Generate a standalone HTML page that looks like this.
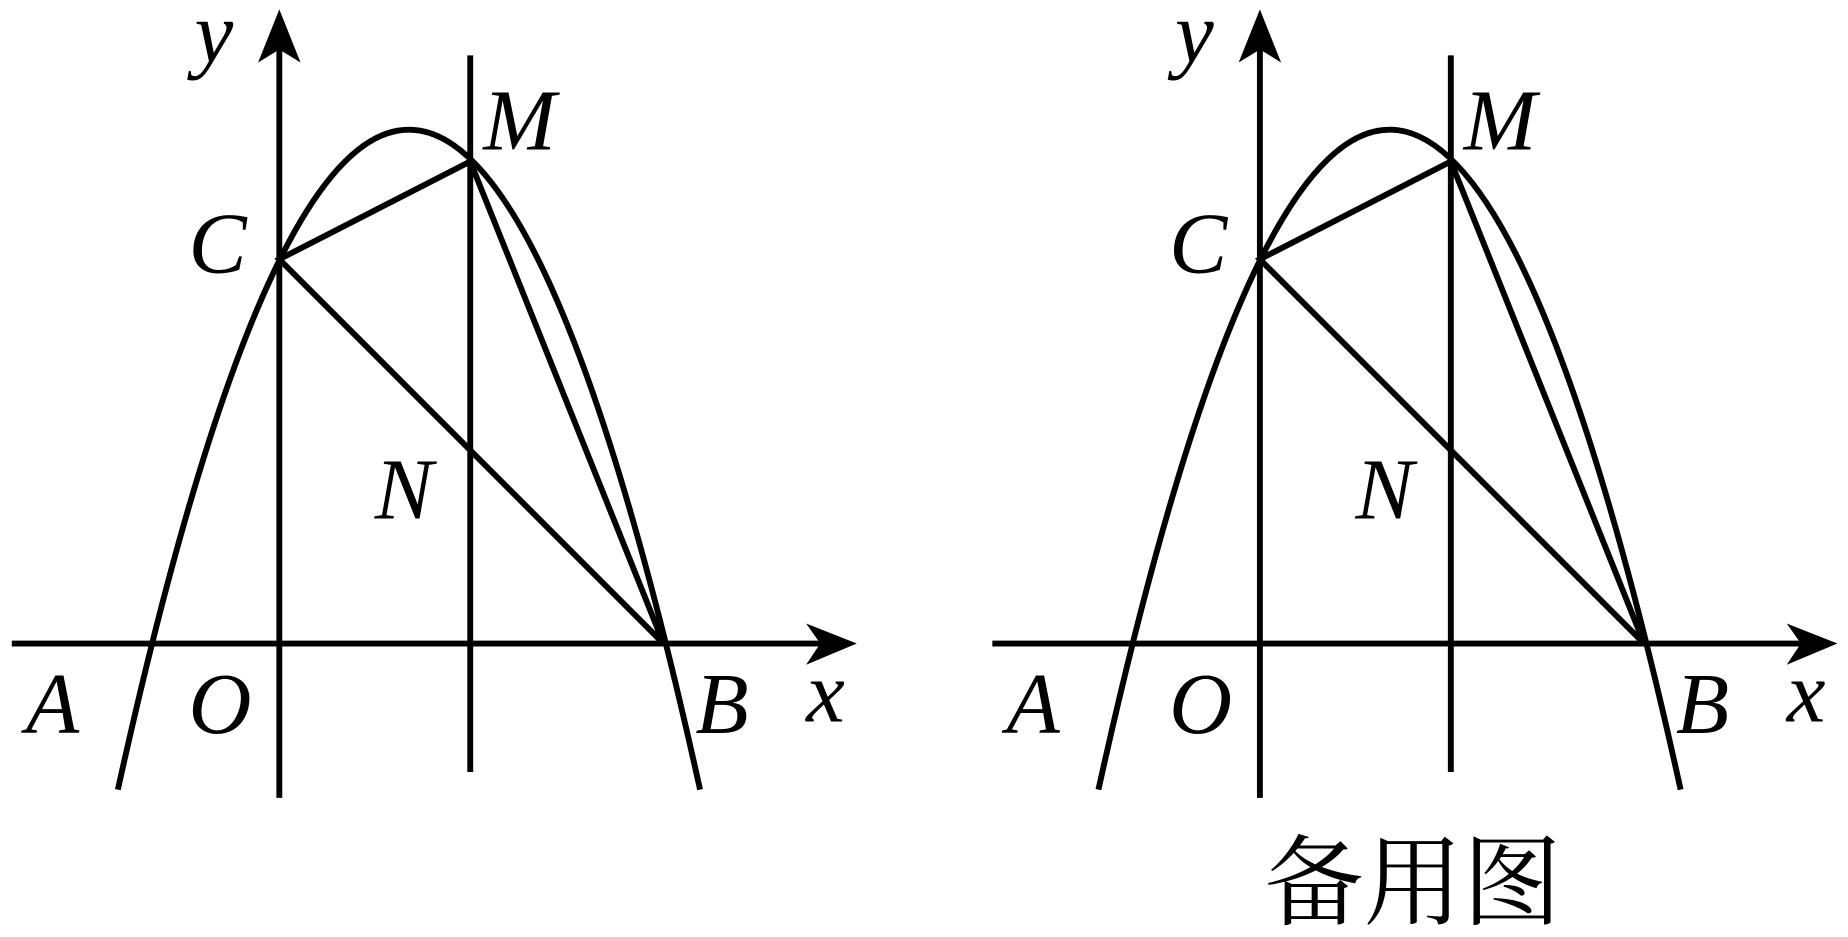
<!DOCTYPE html>
<html><head><meta charset="utf-8"><style>
html,body{margin:0;padding:0;background:#fff;width:1848px;height:937px;overflow:hidden}
svg{display:block}
text{font-family:"Liberation Serif","Times New Roman","Noto Serif CJK SC",serif;font-style:italic;font-size:74px;fill:#000}
.cn{font-family:"Noto Serif CJK SC","Liberation Serif",serif;font-style:normal;font-size:84px}
</style></head><body>
<svg width="1848" height="937" viewBox="0 0 1568 795" preserveAspectRatio="none">
<defs>
<g id="fig">
<g stroke="#000" stroke-width="5" fill="none">
<line x1="10" y1="546" x2="700" y2="546"/>
<line x1="237" y1="677" x2="237" y2="40"/>
<line x1="399" y1="47" x2="399" y2="655"/>
<path d="M100,670 Q347,-450 594,670"/>
<polyline points="563,546 237,220 399,137 563,546"/>
</g>
<polygon points="727,546 684,529 696,546 684,564" fill="#000"/>
<polygon points="237,8 219,53 237,42 255,53" fill="#000"/>
<text x="165" y="52">y</text>
<text x="410" y="127">M</text>
<text x="160" y="231">C</text>
<text x="318" y="440">N</text>
<text x="22" y="622">A</text>
<text x="160" y="622">O</text>
<text x="590" y="622">B</text>
<text x="684" y="612">x</text>
</g>
</defs>
<use href="#fig"/>
<use href="#fig" transform="translate(832,0)"/>
<text class="cn" x="1073" y="778">备用图</text>
</svg>
</body></html>
